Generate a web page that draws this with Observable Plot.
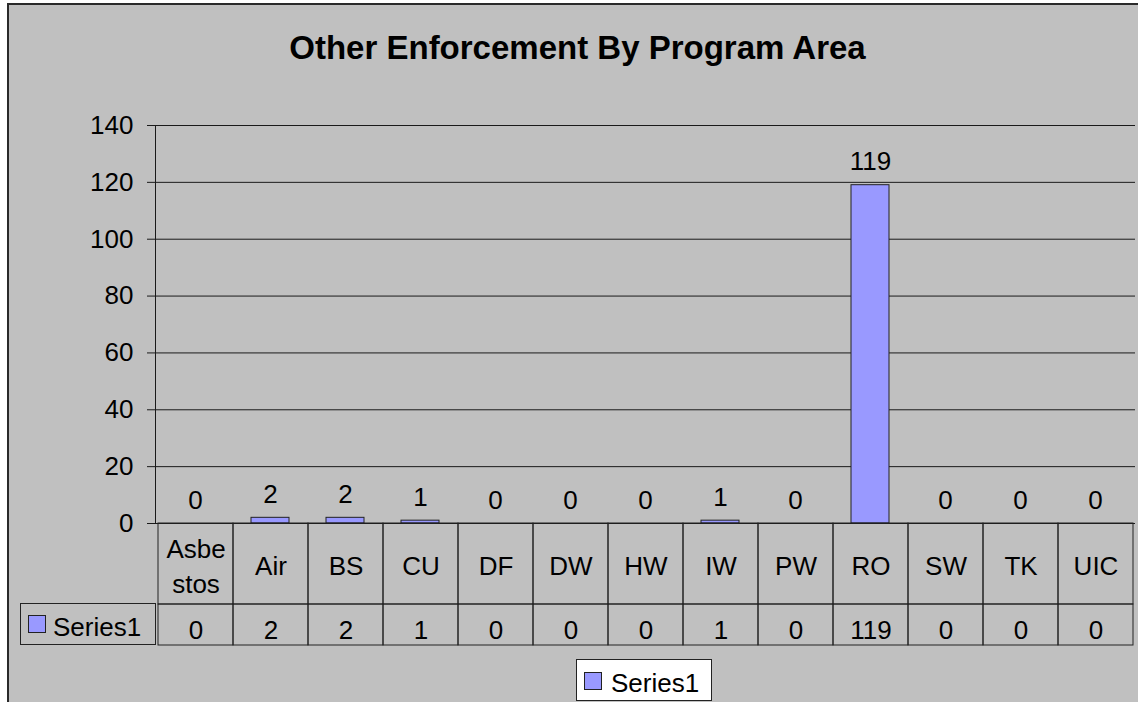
<!DOCTYPE html>
<html>
<head>
<meta charset="utf-8">
<script src="https://cdn.jsdelivr.net/npm/d3@7"></script>
<script src="https://cdn.jsdelivr.net/npm/@observablehq/plot@0.6"></script>
<style>
  html, body { margin: 0; padding: 0; background: #ffffff; }
  #chart { position: relative; width: 1138px; height: 702px; overflow: hidden; background: #ffffff;
           font-family: "Liberation Sans", Arial, sans-serif; color: #000; }
  #frame { position: absolute; left: 7px; top: 3px; right: 0; bottom: 0; background: #c0c0c0;
           border-left: 2px solid #2a2a2a; border-top: 2px solid #2a2a2a; }
  #title { position: absolute; left: 0; width: 1155px; top: 31px; text-align: center;
           font-weight: bold; font-size: 33px; line-height: 33px; }
  .abs { position: absolute; left: 0; }
  #labelCell { position: absolute; left: 20px; top: 603px; width: 136px; height: 42px; box-sizing: border-box;
               border: 1px solid #222; font-size: 26px; }
  #legend { position: absolute; left: 576px; top: 659px; width: 136px; height: 42px; box-sizing: border-box;
            background: #fff; border: 1px solid #222; font-size: 26px; }
  .swatch { position: absolute; width: 16px; height: 16px; background: #9999ff; border: 1px solid #222; }
  .ltext { position: absolute; white-space: nowrap; line-height: 26px; }
</style>
</head>
<body>
<div id="chart">
  <div id="frame"></div>
  <div id="title"></div>
  <div id="labelCell"><div class="swatch" style="left:7px; top:11px"></div><div class="ltext" id="labelText" style="left:32px; top:10px"></div></div>
  <div id="legend"><div class="swatch" style="left:7px; top:12px"></div><div class="ltext" id="legendText" style="left:34px; top:10px"></div></div>
</div>
<script>
const titleText = "Other Enforcement By Program Area";
const seriesName = "Series1";
const categories = ["Asbestos", "Air", "BS", "CU", "DF", "DW", "HW", "IW", "PW", "RO", "SW", "TK", "UIC"];
const values = [0, 2, 2, 1, 0, 0, 0, 1, 0, 119, 0, 0, 0];
const yTicks = [0, 20, 40, 60, 80, 100, 120, 140];

const rows = categories.map((c, i) => ({category: c, value: values[i]}));
const wrapLabel = (s) => s.length > 4 ? s.slice(0, 4) + "\n" + s.slice(4) : s;

document.getElementById("title").textContent = titleText;
document.getElementById("labelText").textContent = seriesName;
document.getElementById("legendText").textContent = seriesName;

const baseStyle = {background: "transparent", color: "#000", fontFamily: "'Liberation Sans', Arial, sans-serif", fontSize: "26px", overflow: "visible"};
const chartEl = document.getElementById("chart");

const bars = Plot.plot({
  width: 1138, height: 524,
  marginLeft: 155, marginRight: 3, marginTop: 125, marginBottom: 1,
  style: baseStyle,
  x: {domain: categories, paddingInner: 0.5, paddingOuter: 0.25, axis: null},
  y: {domain: [0, 140], label: null},
  marks: [
    Plot.gridY(yTicks, {stroke: "#1a1a1a", strokeOpacity: 1}),
    Plot.axisY(yTicks, {tickSize: 8, tickPadding: 14, fontSize: 26, label: null, stroke: "#1a1a1a"}),
    Plot.frame({anchor: "left", stroke: "#1a1a1a"}),
    Plot.barY(rows, {x: "category", y: "value", fill: "#9999ff", stroke: "#222", strokeWidth: 1}),
    Plot.text(rows, {x: "category", y: "value", text: d => String(d.value), dy: -15, lineAnchor: "bottom", fontSize: 26, fill: "#000"})
  ]
});
bars.classList.add("abs");
bars.style.top = "0px";
chartEl.appendChild(bars);

const catRow = Plot.plot({
  width: 1138, height: 83,
  marginLeft: 155, marginRight: 3, marginTop: 1, marginBottom: 1,
  style: baseStyle,
  x: {domain: categories, padding: 0, axis: null},
  marks: [
    Plot.cell(rows, {x: "category", fill: "none", stroke: "#222", inset: 0}),
    Plot.text(rows, {x: "category", text: d => wrapLabel(d.category), fontSize: 26, lineHeight: 1.35, fill: "#000"})
  ]
});
catRow.classList.add("abs");
catRow.style.top = "522px";
chartEl.appendChild(catRow);

const valRow = Plot.plot({
  width: 1138, height: 43,
  marginLeft: 155, marginRight: 3, marginTop: 1, marginBottom: 1,
  style: baseStyle,
  x: {domain: categories, padding: 0, axis: null},
  marks: [
    Plot.cell(rows, {x: "category", fill: "none", stroke: "#222", inset: 0}),
    Plot.text(rows, {x: "category", text: d => String(d.value), fontSize: 26, dy: 6, fill: "#000"})
  ]
});
valRow.classList.add("abs");
valRow.style.top = "603px";
chartEl.appendChild(valRow);
</script>
</body>
</html>
